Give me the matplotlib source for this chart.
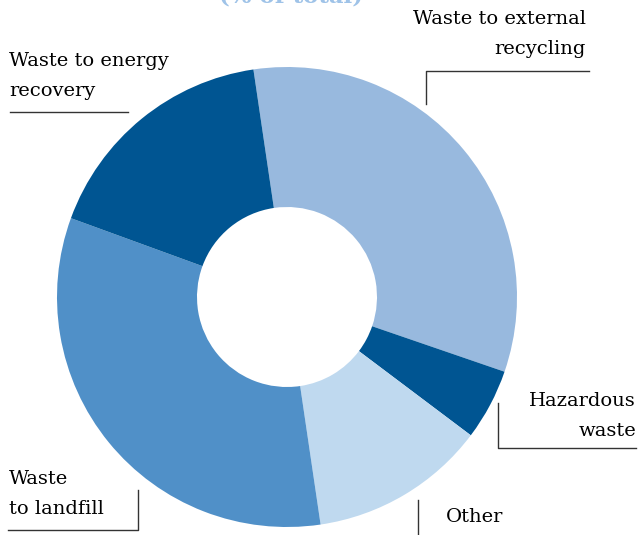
import matplotlib
matplotlib.use('Agg')
import matplotlib.pyplot as plt

# share of total waste (clockwise from the top)
categories = ['Waste to external\nrecycling', 'Hazardous\nwaste', 'Other',
              'Waste\nto landfill', 'Waste to energy\nrecovery']
shares = [32.6, 5.0, 12.4, 32.9, 17.1]
colors = ['#98b9de', '#005592', '#bfd9ef', '#5090c8', '#005592']

plt.rcParams['font.family'] = ['DejaVu Serif']

fig = plt.figure(figsize=(6.39, 5.35), dpi=100)
ax = fig.add_axes([0, 0, 1, 1])

H = 535
ax.pie(shares, colors=colors, startangle=98.4, counterclock=False,
       center=(287, H - 297), radius=230,
       wedgeprops=dict(width=230 - 90, linewidth=0), frame=True)
ax.set_xlim(0, 639)
ax.set_ylim(0, 535)
ax.set_aspect('equal')
ax.axis('off')

fs = 14
ls = 1.85
lc = '#333333'
lw = 1.0

# title, mostly cut off at the top
ax.text(291, H + 4, '(% of total)', ha='center', va='center', fontsize=16.5,
        fontweight='bold', color='#9fc3e8')

# Waste to energy recovery
ax.text(9, H - 76, categories[4], ha='left', va='center', fontsize=fs,
        linespacing=ls)
ax.plot([10, 128], [H - 112, H - 112], color=lc, lw=lw)

# Waste to external recycling
ax.text(586, H - 34, categories[0], ha='right', va='center', fontsize=fs,
        linespacing=ls, multialignment='right')
ax.plot([589, 426, 426], [H - 71, H - 71, H - 104], color=lc, lw=lw)

# Hazardous waste
ax.text(636, H - 416, categories[1], ha='right', va='center', fontsize=fs,
        linespacing=ls, multialignment='right')
ax.plot([498, 498, 636], [H - 403, H - 448, H - 448], color=lc, lw=lw)

# Waste to landfill
ax.text(9, H - 494, categories[3], ha='left', va='center', fontsize=fs,
        linespacing=ls)
ax.plot([8, 138, 138], [H - 530, H - 530, H - 490], color=lc, lw=lw)

# Other
ax.text(446, H - 517, categories[2], ha='left', va='center', fontsize=fs)
ax.plot([418, 418], [H - 500, H - 540], color=lc, lw=lw)

fig.savefig('out.png', dpi=100)
